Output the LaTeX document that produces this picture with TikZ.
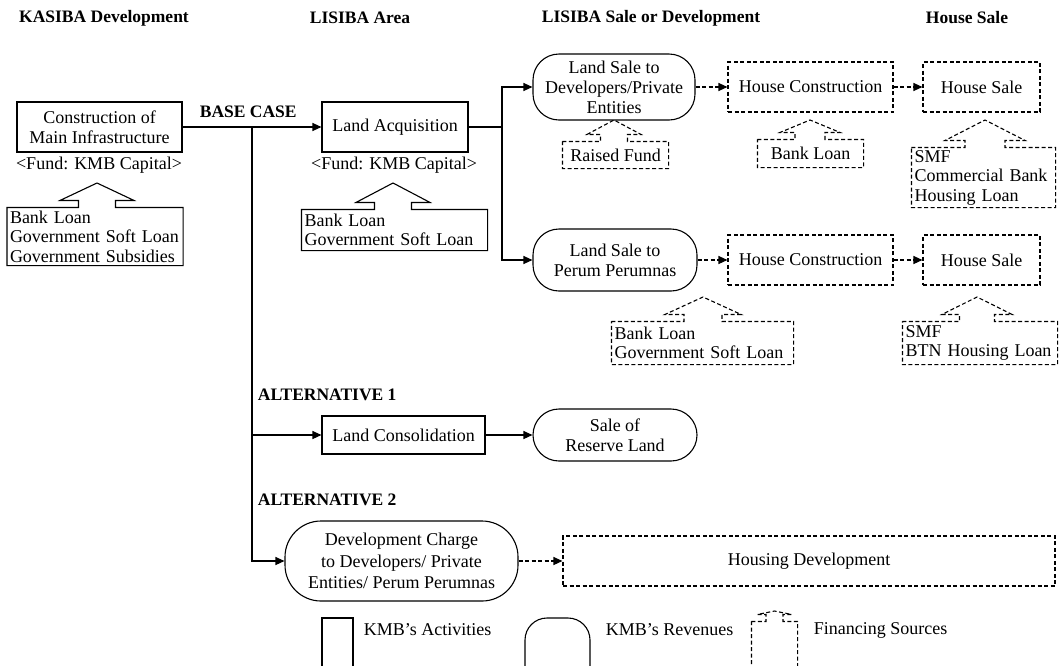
\documentclass[tikz,border=0pt]{standalone}
\usepackage{fontspec}
\setmainfont{Liberation Serif}
\usetikzlibrary{arrows.meta,calc}

% roof of a financing box: #2 box, #3 apex, #4 half width
\newcommand{\finroof}[4][]{%
	\draw[#1] (#2.north west) -- ($(#3|-#2.north)+({-#4/2},0)$) -- ++(0,-7)
		-- ($(#3|-#2.north)+(-#4,-7)$) -- (#3) -- ($(#3|-#2.north)+(#4,-7)$)
		-- ($(#3|-#2.north)+({#4/2},-7)$) -- ++(0,7) -- (#2.north east)
		-- (#2.south east) -- (#2.south west) -- cycle;}

\begin{document}
\begin{tikzpicture}[x=1pt,y=-1pt,line width=1.1pt,
		font=\fontsize{18}{20}\selectfont,
		act/.style={draw, rectangle, align=center, inner sep=0pt},
		rev/.style={draw, rounded corners=26pt, align=center, inner sep=0pt},
		fin/.style={align=left, inner xsep=2.5pt, inner ysep=1pt, font=\fontsize{18}{19.5}\selectfont},
		dsh/.style={dash pattern=on 4pt off 2.5pt},
		head/.style={font=\fontsize{17.5}{20}\selectfont\bfseries},
		arr/.style={-{Triangle[length=9pt,width=8pt]}}]

		\useasboundingbox (0,0) rectangle (1062,665);
		\clip (0,0) rectangle (1062,665);

		\node[head] (hKas) at (104,18) {KASIBA Development};
		\node[head] (hLis) at (360,18) {LISIBA Area};
		\node[head] (hSale) at (651,18) {LISIBA Sale or Development};
		\node[head] (hHouse) at (967,18) {House Sale};

		% base case
		\node[act, minimum width=165pt, minimum height=50pt] (infra) at (99.5,127) {Construction of\\Main Infrastructure};
		\node[head, anchor=west] (baseLbl) at (196,112) {BASE CASE};
		\node[act, minimum width=146pt, minimum height=50pt] (landAcq) at (395,127) {Land Acquisition};
		\node (fundA) at (99,165) {<Fund: KMB Capital>};
		\node (fundB) at (394,165) {<Fund: KMB Capital>};

		\node[fin, text width=170pt, minimum height=57pt] (finA) at (95,236.5) {Bank Loan\\Government Soft Loan\\Government Subsidies};
		\coordinate (apxA) at (97,183);
		\finroof{finA}{apxA}{37}
		\node[fin, text width=180pt, minimum height=40pt] (finB) at (394.5,230) {Bank Loan\\Government Soft Loan};
		\coordinate (apxB) at (393,183);
		\finroof{finB}{apxB}{37}

		% LISIBA sale
		\node[rev, minimum width=162pt, minimum height=66pt] (saleDev) at (614,87) {Land Sale to\\Developers/Private\\Entities};
		\node[act, dsh, minimum width=165pt, minimum height=50pt] (houseConA) at (810.5,87) {House Construction};
		\node[act, dsh, minimum width=117pt, minimum height=50pt] (houseSaleA) at (981.5,87) {House Sale};

		\node[fin, align=center, minimum width=105pt, minimum height=26pt] (finRaised) at (615.5,155) {Raised Fund};
		\coordinate (apxR) at (614,120);
		\finroof[dsh]{finRaised}{apxR}{27}
		\node[fin, align=center, minimum width=105pt, minimum height=27pt] (finBankA) at (810.5,153.5) {Bank Loan};
		\coordinate (apxC) at (810,120);
		\finroof[dsh]{finBankA}{apxC}{30}
		\node[fin, text width=138pt, minimum height=59pt] (finSmfA) at (983.5,177.5) {SMF\\Commercial Bank\\Housing Loan};
		\coordinate (apxS) at (985,120);
		\finroof[dsh]{finSmfA}{apxS}{40}

		\node[rev, minimum width=164pt, minimum height=62pt] (salePer) at (615,260) {Land Sale to\\Perum Perumnas};
		\node[act, dsh, minimum width=165pt, minimum height=50pt] (houseConB) at (810.5,260) {House Construction};
		\node[act, dsh, minimum width=117pt, minimum height=50pt] (houseSaleB) at (981.5,260) {House Sale};

		\node[fin, text width=176pt, minimum height=42pt] (finBankB) at (702.5,343) {Bank Loan\\Government Soft Loan};
		\coordinate (apxD) at (703,297);
		\finroof[dsh]{finBankB}{apxD}{38}
		\node[fin, text width=149pt, minimum height=42pt] (finSmfB) at (980,343) {SMF\\BTN Housing Loan};
		\coordinate (apxT) at (977,297);
		\finroof[dsh]{finSmfB}{apxT}{35}

		% alternatives
		\node[head, anchor=west] (altA) at (254,395) {ALTERNATIVE 1};
		\node[act, minimum width=163pt, minimum height=38pt] (landCons) at (403.5,435) {Land Consolidation};
		\node[rev, minimum width=164pt, minimum height=52pt] (saleRes) at (615,435) {Sale of\\Reserve Land};

		\node[head, anchor=west] (altB) at (254,500) {ALTERNATIVE 2};
		\node[rev, rounded corners=36pt, minimum width=233pt, minimum height=80pt, font=\fontsize{18}{21.5}\selectfont] (devCharge) at (401.5,561) {Development Charge\\to Developers/ Private\\Entities/ Perum Perumnas};
		\node[act, dsh, minimum width=492pt, minimum height=50pt] (houseDev) at (809,561) {Housing Development};

		% connectors
		\coordinate (split) at (252,127);
		\coordinate (fork) at (502,127);
		\draw[arr] (infra.east) -- (landAcq.west);
		\draw[arr] (split) |- (landCons.west);
		\draw[arr] (split) |- (devCharge.west);
		\draw (landAcq.east) -- (fork);
		\draw[arr] (fork) |- (saleDev.west);
		\draw[arr] (fork) |- (salePer.west);
		\draw[arr, dsh] (saleDev.east) -- (houseConA.west);
		\draw[arr, dsh] (houseConA.east) -- (houseSaleA.west);
		\draw[arr, dsh] (salePer.east) -- (houseConB.west);
		\draw[arr, dsh] (houseConB.east) -- (houseSaleB.west);
		\draw[arr] (landCons.east) -- (saleRes.west);
		\draw[arr, dsh] (devCharge.east) -- (houseDev.west);

		% legend
		\node[act, minimum width=31pt, minimum height=64pt] (legAct) at (337.5,650) {};
		\node[anchor=west] (legActTxt) at (360,630) {KMB's Activities};
		\node[rev, rounded corners=22pt, minimum width=65pt, minimum height=72pt] (legRev) at (557.5,654) {};
		\node[anchor=west] (legRevTxt) at (602,630) {KMB's Revenues};
		\node[fin, minimum width=45pt, minimum height=70pt] (legFin) at (774.5,657) {};
		\coordinate (apxL) at (774.5,611);
		\finroof[dsh]{legFin}{apxL}{17}
		\node[anchor=west] (legFinTxt) at (810,630) {Financing Sources};

	\end{tikzpicture}
\end{document}
